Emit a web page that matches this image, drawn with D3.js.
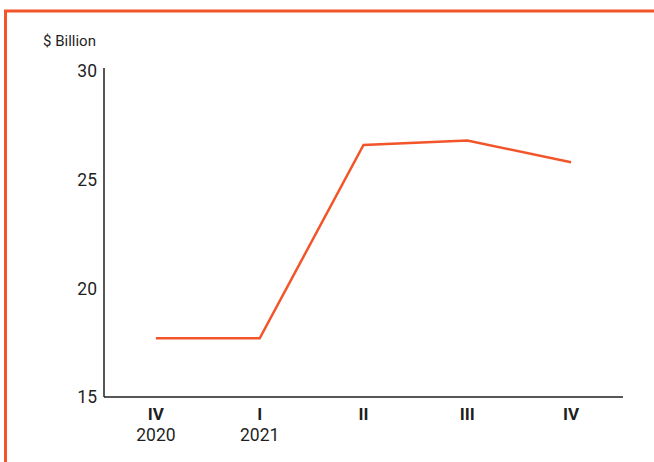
<!DOCTYPE html>
<html>
<head>
<meta charset="utf-8">
<script src="https://cdn.jsdelivr.net/npm/d3@7"></script>
<style>
  html, body { margin: 0; padding: 0; background: #fff; }
  svg { display: block; font-family: Roboto, "Noto Sans", sans-serif; }
</style>
</head>
<body>
<svg id="chart" width="654" height="462"></svg>
<script>
// Quarterly values, $ billion
const quarters = ["IV", "I", "II", "III", "IV"];
const years = ["2020", "2021", "", "", ""];
const values = [17.7, 17.7, 26.6, 26.8, 25.8];
const yTicks = [15, 20, 25, 30];
const unitLabel = "$ Billion";

const accent = "#f2552a";
const ink = "#1f1f1f";

const svg = d3.select("#chart");

// Frame: top and left edges
svg.append("path")
  .attr("d", "M5.5,660 L5.5,11 L660,11")
  .attr("fill", "none")
  .attr("stroke", accent)
  .attr("stroke-width", 3);

const plotLeft = 104, plotRight = 623, plotTop = 71, plotBottom = 397;

const idx = d3.range(quarters.length);
const x = d3.scalePoint().domain(idx).range([plotLeft, plotRight]).padding(0.5);
const y = d3.scaleLinear().domain([15, 30]).range([plotBottom, plotTop]);

// Axis lines
svg.append("line")
  .attr("x1", plotLeft).attr("x2", plotLeft)
  .attr("y1", y(30) - 3).attr("y2", plotBottom)
  .attr("stroke", ink).attr("stroke-width", 1.5);
svg.append("line")
  .attr("x1", plotLeft).attr("x2", plotRight)
  .attr("y1", plotBottom).attr("y2", plotBottom)
  .attr("stroke", ink).attr("stroke-width", 1.5);

// Y tick labels
svg.selectAll(".ytick")
  .data(yTicks)
  .join("text")
  .attr("class", "ytick")
  .attr("x", plotLeft - 7)
  .attr("y", d => y(d))
  .attr("dy", "0.36em")
  .attr("text-anchor", "end")
  .attr("font-size", 17.5)
  .attr("fill", ink)
  .text(d => d);

svg.append("text")
  .attr("x", 43)
  .attr("y", 46)
  .attr("font-size", 15)
  .attr("fill", ink)
  .text(unitLabel);

// X labels: quarter (bold) and year
svg.selectAll(".qlabel")
  .data(idx)
  .join("text")
  .attr("class", "qlabel")
  .attr("x", i => x(i))
  .attr("y", 420)
  .attr("text-anchor", "middle")
  .attr("font-size", 17)
  .attr("font-weight", "bold")
  .attr("fill", ink)
  .text(i => quarters[i]);

svg.selectAll(".ylabel")
  .data(idx.filter(i => years[i]))
  .join("text")
  .attr("class", "ylabel")
  .attr("x", i => x(i))
  .attr("y", 441)
  .attr("text-anchor", "middle")
  .attr("font-size", 17.5)
  .attr("fill", ink)
  .text(i => years[i]);

// Series line
const line = d3.line()
  .x((d, i) => x(i))
  .y(d => y(d));

svg.append("path")
  .datum(values)
  .attr("d", line)
  .attr("fill", "none")
  .attr("stroke", accent)
  .attr("stroke-width", 2.5)
  .attr("stroke-linejoin", "miter");
</script>
</body>
</html>
